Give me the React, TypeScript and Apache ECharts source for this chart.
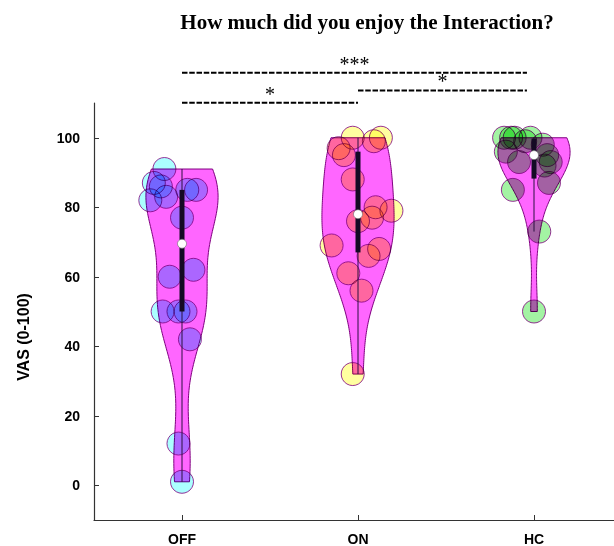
import React, { useEffect, useRef } from "react";
import * as echarts from "echarts";

const categories = ["OFF", "ON", "HC"];

const offValues = [91, 87, 86, 83, 82, 85, 85, 77, 62, 60, 50, 50, 50, 42, 12, 1];
const offJitter = [-0.1, -0.16, -0.12, -0.09, -0.18, 0.03, 0.08, 0.0, 0.065, -0.07, -0.11, -0.02, 0.02, 0.045, -0.02, 0.0];

const onValues = [100, 100, 99, 97, 95, 88, 80, 79, 77, 76, 69, 68, 66, 61, 56, 32];
const onJitter = [-0.03, 0.13, 0.09, -0.11, -0.08, -0.03, 0.1, 0.19, 0.08, 0.0, -0.15, 0.12, 0.06, -0.055, 0.02, -0.03];

const hcValues = [100, 100, 100, 100, 99, 98, 96, 95, 93, 93, 92, 87, 85, 73, 50];
const hcJitter = [-0.17, -0.13, -0.02, -0.11, -0.05, 0.05, -0.16, 0.075, -0.085, 0.095, 0.06, 0.085, -0.12, 0.03, 0.0];

// kernel bandwidths of the violins
const bandwidths = [12, 11.5, 8.3];

const yTicks = [0, 20, 40, 60, 80, 100];

const sigFrom = [1, 1, 2];
const sigTo = [2.96, 2, 2.96];
const sigLevel = [118.7, 110.1, 113.6];
const sigLabels = ["***", "*", "*"];

const groups = [offValues, onValues, hcValues];
const jitters = [offJitter, onJitter, hcJitter];
const pointColors = ["#96ffff", "#ffff88", "#8cf08c"];

function hexToRgb(h: string) {
  const n = parseInt(h.slice(1), 16);
  return `rgb(${(n >> 16) & 255},${(n >> 8) & 255},${n & 255})`;
}

function quantile(sorted: number[], p: number) {
  const n = sorted.length;
  const pos = p * n + 0.5;
  if (pos <= 1) return sorted[0];
  if (pos >= n) return sorted[n - 1];
  const lo = Math.floor(pos);
  const f = pos - lo;
  return sorted[lo - 1] + f * (sorted[lo] - sorted[lo - 1]);
}

function stats(vals: number[]) {
  const s = [...vals].sort((a, b) => a - b);
  const q1 = quantile(s, 0.25);
  const med = quantile(s, 0.5);
  const q3 = quantile(s, 0.75);
  const iqr = q3 - q1;
  const lo = s.filter((v) => v >= q1 - 1.5 * iqr)[0];
  const hiArr = s.filter((v) => v <= q3 + 1.5 * iqr);
  const hi = hiArr[hiArr.length - 1];
  return { q1, med, q3, lo, hi };
}

function violin(vals: number[], bw: number) {
  const lo = Math.min(...vals);
  const hi = Math.max(...vals);
  const N = 120;
  const pts: number[][] = [];
  for (let i = 0; i <= N; i++) {
    const y = lo + ((hi - lo) * i) / N;
    let d = 0;
    for (const v of vals) d += Math.exp(-0.5 * ((y - v) / bw) ** 2);
    pts.push([y, d]);
  }
  const mx = Math.max(...pts.map((p) => p[1]));
  return pts.map(([y, d]) => [y, d / mx]);
}

const VIOLIN_HALF = 0.205;

export default function App() {
  const ref = useRef<HTMLDivElement>(null);
  useEffect(() => {
    const el = ref.current!;
    const chart = echarts.init(el, null, { renderer: "svg" });
    const shapes = groups.map((g, i) => violin(g, bandwidths[i]));
    const st = groups.map(stats);
    const sans = "'Liberation Sans', Arial, sans-serif";
    const serif = "'Liberation Serif', 'Times New Roman', serif";

    const fills = new Set<string>();
    pointColors.forEach((c) => {
      fills.add(c.toLowerCase());
      fills.add(hexToRgb(c));
    });
    const applyBlend = () => {
      el.querySelectorAll("svg path").forEach((p: any) => {
        const f = (p.getAttribute("fill") || "").toLowerCase().replace(/\s/g, "");
        if (fills.has(f)) p.style.mixBlendMode = "multiply";
      });
    };
    chart.on("rendered", applyBlend);
    chart.on("finished", applyBlend);

    const option: any = {
      animation: false,
      backgroundColor: "#fff",
      grid: { left: 94, top: 103, width: 520, height: 419 },
      graphic: [
        {
          type: "text",
          x: 367,
          y: 22,
          style: {
            text: "How much did you enjoy the Interaction?",
            font: `bold 21px ${serif}`,
            fill: "#000",
            textAlign: "center",
            textVerticalAlign: "middle",
          },
        },
        {
          type: "text",
          x: 23,
          y: 337,
          rotation: Math.PI / 2,
          style: {
            text: "VAS (0-100)",
            font: `bold 16px ${sans}`,
            fill: "#000",
            textAlign: "center",
            textVerticalAlign: "middle",
          },
        },
      ],
      xAxis: {
        type: "value",
        min: 0.5,
        max: 0.5 + 520 / 176,
        axisLine: { onZero: false, lineStyle: { color: "#333", width: 1.2 } },
        axisTick: { inside: true, length: 5, customValues: [1, 2, 3], lineStyle: { color: "#333" } },
        axisLabel: {
          customValues: [1, 2, 3],
          formatter: (v: number) => categories[Math.round(v) - 1],
          fontWeight: "bold",
          fontSize: 14,
          fontFamily: sans,
          color: "#000",
          margin: 12,
        },
        splitLine: { show: false },
      },
      yAxis: {
        type: "value",
        min: -10,
        max: 110,
        axisLine: { show: true, onZero: false, lineStyle: { color: "#333", width: 1.2 } },
        axisTick: { show: true, inside: true, length: 5, customValues: yTicks, lineStyle: { color: "#333" } },
        axisLabel: {
          customValues: yTicks,
          fontWeight: "bold",
          fontSize: 14,
          fontFamily: sans,
          color: "#000",
          margin: 14,
        },
        splitLine: { show: false },
      },
      series: [
        {
          type: "custom",
          z: 1,
          data: [[0, 0], [1, 0], [2, 0]],
          renderItem: (params: any, api: any) => {
            const gi = params.dataIndex;
            const c = gi + 1;
            const sh = shapes[gi];
            const right = sh.map(([y, d]) => api.coord([c + d * VIOLIN_HALF, y]));
            const left = sh.map(([y, d]) => api.coord([c - d * VIOLIN_HALF, y])).reverse();
            return {
              type: "polygon",
              shape: { points: right.concat(left) },
              style: { fill: "#ff66ff", stroke: "#800080", lineWidth: 1 },
            };
          },
        },
        ...groups.map((vals, gi) => ({
          type: "scatter",
          z: 2,
          symbolSize: 23,
          itemStyle: { color: pointColors[gi], borderColor: "#800080", borderWidth: 1 },
          data: vals.map((v, i) => [gi + 1 + jitters[gi][i], v]),
        })),
        {
          type: "custom",
          z: 3,
          data: [[0, 0], [1, 0], [2, 0]],
          renderItem: (params: any, api: any) => {
            const gi = params.dataIndex;
            const c = gi + 1;
            const s = st[gi];
            const wt = api.coord([c, s.hi]);
            const wb = api.coord([c, s.lo]);
            const q3 = api.coord([c, s.q3]);
            const q1 = api.coord([c, s.q1]);
            const md = api.coord([c, s.med]);
            return {
              type: "group",
              children: [
                { type: "line", shape: { x1: wt[0], y1: wt[1], x2: wb[0], y2: wb[1] }, style: { stroke: "#2a1040", lineWidth: 1 } },
                { type: "line", shape: { x1: q3[0], y1: q3[1], x2: q1[0], y2: q1[1] }, style: { stroke: "#140a24", lineWidth: 5 } },
                { type: "circle", shape: { cx: md[0], cy: md[1], r: 4.5 }, style: { fill: "#fff", stroke: "#666", lineWidth: 0.6 } },
              ],
            };
          },
        },
        {
          type: "custom",
          z: 4,
          clip: false,
          data: sigLabels.map((_, i) => [i, 0]),
          renderItem: (params: any, api: any) => {
            const i = params.dataIndex;
            const a = api.coord([sigFrom[i], sigLevel[i]]);
            const b = api.coord([sigTo[i], sigLevel[i]]);
            return {
              type: "group",
              children: [
                {
                  type: "line",
                  shape: { x1: a[0], y1: a[1], x2: b[0], y2: b[1] },
                  style: { stroke: "#000", lineWidth: 2, lineDash: [5.5, 1.75] },
                },
                {
                  type: "text",
                  x: (a[0] + b[0]) / 2,
                  y: a[1] - 9,
                  style: {
                    text: sigLabels[i],
                    font: `20px ${serif}`,
                    fill: "#000",
                    textAlign: "center",
                    textVerticalAlign: "middle",
                  },
                },
              ],
            };
          },
        },
      ],
    };
    chart.setOption(option);
    applyBlend();
    const t = setTimeout(applyBlend, 50);
    return () => {
      clearTimeout(t);
      chart.dispose();
    };
  }, []);
  return <div ref={ref} style={{ position: "fixed", left: 0, top: 0, width: 614, height: 546 }} />;
}
